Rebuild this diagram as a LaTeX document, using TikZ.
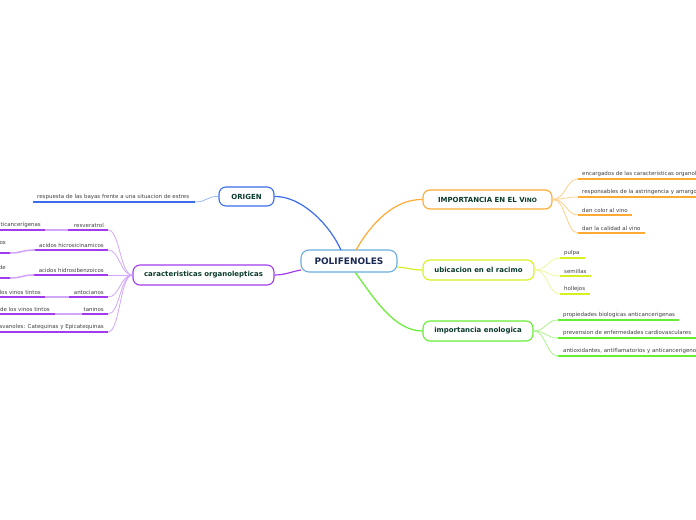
\documentclass[tikz,border=0pt]{standalone}
\usepackage{fontspec}
\setmainfont{DejaVu Sans}
\definecolor{cblue}{HTML}{3A6CEB}
\definecolor{lblue}{HTML}{9DB8F5}
\definecolor{cpurp}{HTML}{A23BEE}
\definecolor{lpurp}{HTML}{D2A6FA}
\definecolor{corange}{HTML}{FFAA33}
\definecolor{lorange}{HTML}{FFD08A}
\definecolor{cyell}{HTML}{D8F020}
\definecolor{lyell}{HTML}{EEF79A}
\definecolor{cgreen}{HTML}{66EE33}
\definecolor{lgreen}{HTML}{A9F58C}
\definecolor{centb}{HTML}{6AAEE0}
\definecolor{ttxt}{HTML}{0B3B2E}
\definecolor{ctxt}{HTML}{1A2A55}
\definecolor{ltxt}{HTML}{404040}
\tikzset{
  mainbox/.style={draw, line width=1.1pt, rounded corners=7bp, fill=white, inner sep=0pt,
    font=\fontsize{7}{8}\selectfont\bfseries, text=ttxt},
  centbox/.style={draw=centb, line width=1.1pt, rounded corners=8bp, fill=white, inner sep=0pt,
    minimum width=96bp, minimum height=22bp, font=\fontsize{9}{10}\selectfont\bfseries, text=ctxt},
  leaf/.style={inner sep=0pt, font=\fontsize{5.5}{6}\selectfont, text=ltxt},
  uline/.style={line width=1.8pt},
  branch/.style={line width=1.2pt},
  twig/.style={line width=0.8pt},
  subtwig/.style={line width=1.6pt}
}
\begin{document}
\begin{tikzpicture}[x=1bp,y=-1bp]
\useasboundingbox (0,0) rectangle (696,520);
\clip (0,0) rectangle (696,520);

% central
\node[centbox] (pol) at (349,261) {POLIFENOLES};

% main branches
\node[mainbox, draw=cblue, minimum width=55bp, minimum height=19bp] (ori) at (246.5,196.5) {ORIGEN};
\node[mainbox, draw=cpurp, minimum width=141bp, minimum height=20bp] (car) at (203.5,275) {caracteristicas organolepticas};
\node[mainbox, draw=corange, minimum width=129bp, minimum height=19bp] (imp) at (487.5,199.5) {IMPORTANCIA EN EL V{\fontsize{6}{7}\selectfont INO}};
\node[mainbox, draw=cyell, minimum width=111bp, minimum height=20bp] (ubi) at (478.5,270) {ubicacion en el racimo};
\node[mainbox, draw=cgreen, minimum width=110bp, minimum height=20bp] (eno) at (478,331) {importancia enologica};

\coordinate (pA) at (341,250);
\coordinate (pB) at (356,250);
\coordinate (pC) at (301,270);
\coordinate (pD) at (397,267);
\coordinate (pE) at (355,272);

\draw[branch, cblue] (pA) .. controls (328,222) and (300,196) .. (ori.east);
\draw[branch, corange] (pB) .. controls (372,222) and (395,199) .. (imp.west);
\draw[branch, cpurp] (pC) .. controls (290,272) and (285,275) .. (car.east);
\draw[branch, cyell] (pD) .. controls (410,268) and (412,270) .. (ubi.west);
\draw[branch, cgreen] (pE) .. controls (375,300) and (395,331) .. (eno.west);

% ORIGEN leaf
\coordinate (o1a) at (33,202); \coordinate (o1b) at (195,202);
\node[leaf, anchor=south west] (o1) at (37,199.5) {respuesta de las bayas frente a una situacion de estres};
\draw[uline, cblue] (o1a) -- (o1b);
\draw[twig, lblue] (ori.west) .. controls (207,196) and (207,202) .. (o1b);

% IMPORTANCIA leaves
\foreach \n/\y/\xe/\t in {1/179/696/encargados de las caracteristicas organolepticas,
                           2/197/696/responsables de la astringencia y amargor,
                           3/215/632/dan color al vino,
                           4/233/645/dan la calidad al vino}{
  \coordinate (i\n a) at (578,\y); \coordinate (i\n b) at (\xe,\y);
  \node[leaf, anchor=south west] (i\n) at (582,\y-2.5) {\t};
  \draw[uline, corange] (i\n a) -- (i\n b);
  \draw[twig, lorange] (imp.east) .. controls (566,199) and (566,\y) .. (i\n a);
}

% ubicacion leaves
\foreach \n/\y/\xe/\t in {1/258/585/pulpa, 2/276/591/semillas, 3/294/590/hollejos}{
  \coordinate (u\n a) at (560,\y); \coordinate (u\n b) at (\xe,\y);
  \node[leaf, anchor=south west] (u\n) at (564,\y-2.5) {\t};
  \draw[uline, cyell] (u\n a) -- (u\n b);
  \draw[twig, lyell] (ubi.east) .. controls (548,270) and (548,\y) .. (u\n a);
}

% enologica leaves
\foreach \n/\y/\xe/\t in {1/320/679/propiedades biologicas anticancerigenas,
                           2/338/696/prevension de enfermedades cardiovasculares,
                           3/356/696/antioxidantes{,} antiflamatorios y anticancerigenos}{
  \coordinate (e\n a) at (558,\y); \coordinate (e\n b) at (\xe,\y);
  \node[leaf, anchor=south west] (e\n) at (563,\y-2.5) {\t};
  \draw[uline, cgreen] (e\n a) -- (e\n b);
  \draw[twig, lgreen] (eno.east) .. controls (546,331) and (546,\y) .. (e\n a);
}

% caracteristicas leaves (right aligned)
\foreach \n/\y/\xs/\t in {1/230/68/resveratrol, 2/250/35/acidos hicrosicinamicos,
                           3/275/34/acidos hidrosibenzoicos, 4/297/69/antocianos,
                           5/314/82/taninos, 6/332/0/Flavanoles: Catequinas y Epicatequinas}{
  \coordinate (k\n a) at (108,\y); \coordinate (k\n b) at (\xs,\y);
  \node[leaf, anchor=south east] (k\n) at (104,\y-2.5) {\t};
  \draw[uline, cpurp] (k\n a) -- (k\n b);
  \draw[twig, lpurp] (car.west) .. controls (120,275) and (120,\y) .. (k\n a);
}

% sub-leaves on the far left
\coordinate (s1b) at (45,230); \coordinate (s1a) at (-10,230);
\node[leaf, anchor=south east] (s1) at (41,227.5) {anticancerígenas};
\draw[uline, cpurp] (s1a) -- (s1b);
\draw[subtwig, lpurp] (k1b) -- (s1b);

\coordinate (s2b) at (10,253); \coordinate (s2a) at (-10,253);
\node[leaf, anchor=south east] (s2) at (6,244.5) {os};
\draw[uline, cpurp] (s2a) -- (s2b);
\draw[subtwig, lpurp] (k2b) .. controls (22,250) and (22,253) .. (s2b);

\coordinate (s3b) at (10,278); \coordinate (s3a) at (-10,278);
\node[leaf, anchor=south east] (s3) at (6,269.5) {de};
\draw[uline, cpurp] (s3a) -- (s3b);
\draw[subtwig, lpurp] (k3b) .. controls (22,275) and (22,278) .. (s3b);

\coordinate (s4b) at (45,297); \coordinate (s4a) at (-10,297);
\node[leaf, anchor=south east] (s4) at (41,294.5) {de los vinos tintos};
\draw[uline, cpurp] (s4a) -- (s4b);
\draw[subtwig, lpurp] (k4b) -- (s4b);

\coordinate (s5b) at (55,314); \coordinate (s5a) at (-10,314);
\node[leaf, anchor=south east] (s5) at (50,311.5) {de los vinos tintos};
\draw[uline, cpurp] (s5a) -- (s5b);
\draw[subtwig, lpurp] (k5b) -- (s5b);
\end{tikzpicture}
\end{document}
